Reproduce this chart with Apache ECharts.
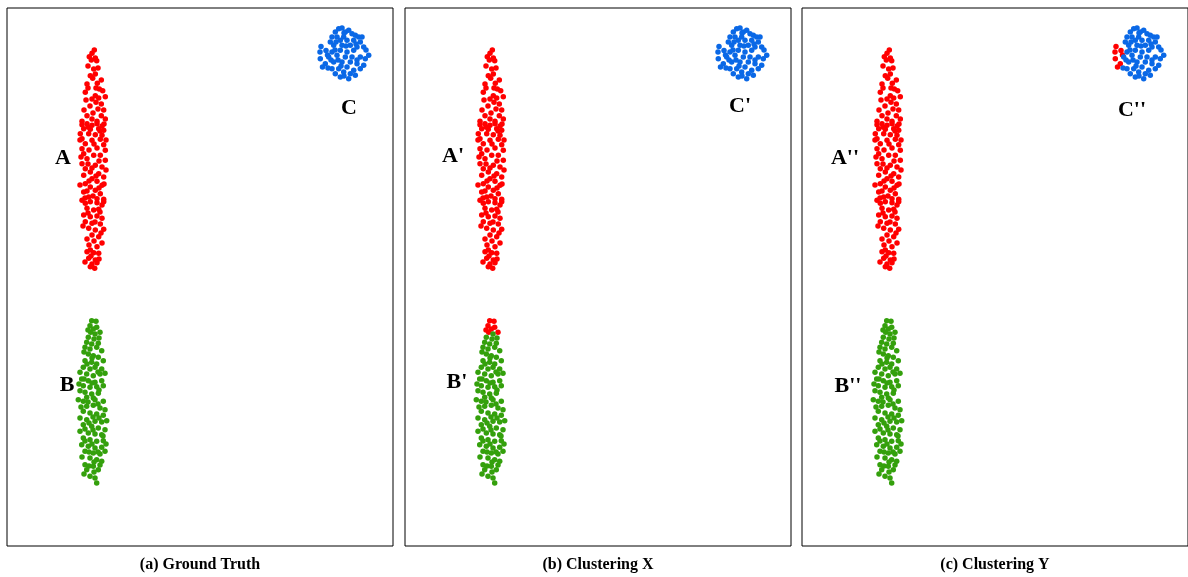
<!DOCTYPE html>
<html><head><meta charset="utf-8">
<script src="https://cdn.jsdelivr.net/npm/echarts@6/dist/echarts.min.js"></script>
<style>html,body{margin:0;padding:0;background:#fff}#c{width:1188px;height:577px}</style>
</head><body><div id="c"></div>
<script>
// Point positions, in panel coordinates (same layout in all three panels)
const clusterA = [
[94.3,50],[92,53.3],[89.3,56.7],[95.3,58],[91.3,60],[96.7,60.7],[93.7,69],[90.3,75.7],[95.3,74],[92.7,78.3],
[101.3,80],[97.3,83.3],[87,84],[88,88],[85.3,92.3],[99.3,89],[102.7,90.7],[95.3,95.7],[98.7,98],[105.3,96.7],
[96,102.3],[101.3,104],[98,109],[103.7,110],[87,115.7],[101.3,115.7],[92,119],[82,121.3],[105.3,119],[97,121.3],
[82,124.7],[87,123.7],[92,125.3],[97,123.7],[102,126],[83.7,128.7],[90.3,129.3],[98.7,128.7],[103.7,130.3],[80.3,133.7],
[88.7,133.7],[95.3,134.7],[102,135.3],[82,138.7],[92,140.3],[100.3,139.3],[85.3,143.7],[103.7,144.7],[82,148.7],[97,148],
[105.3,150.3],[83.7,153.7],[93.7,155.3],[100.3,155.3],[87,158.7],[105.3,160.3],[82,163.7],[95.3,165.3],[102,167],[85.3,168.7],
[90.3,172],[98.7,173.7],[83.7,175.3],[103.7,177],[92,178.7],[97,181.3],[85.3,183.7],[102,185.3],[90.3,187],[95.3,190.3],
[83.7,192],[100.3,193.7],[88.7,197],[97,198.7],[103.7,199.3],[82,200.3],
[85.3,203.3],[90.3,201.7],[97,202.7],[102,205],[103.7,201.7],[87,208.3],[93.7,210],[98.7,209.3],[83.7,215],[90.3,216.7],
[97,216],[102,218.3],[85.3,221.7],[92,223.3],[100.3,224],[88.7,228.3],[95.3,230],[103.7,229.3],[92,235],[98.7,236.7],
[97,246.7],[90.3,250],[87,251.7],[93.7,252.7],[98.7,253.3],[88.7,258.3],[95.3,260],[92,264],[97,262.7],[90.3,266.7],[94.7,268.3],
[86,100],[90,106],[84,110],[93,113],[88,127],[100,131],[94,144],[89,150],[99,161],[88,164],
[92,168],[96,176],[89,181],[104,184],[87,191],[99,188],[93,196],[85,198],[100,212],[88,213],
[95,222],[83,226],[101,233],[87,239],[94,241],[102,243],[89,245],[85,262],[99,259],[91,256],
[98,68],[88,66],[96,88],[92,99],[104,124],[80,140],[106,140],[81,157],[106,170],[80,185]
];
// top of cluster B (assigned to the red cluster by Clustering X)
const clusterBTop = [
[91.7,320.7],[96,321.3],[90,325.7],[93.3,329],[96.7,327.3],[90.7,332.3],[100,332.3],[88,330]
];
const clusterBRest = [
[95,334],[88.3,337.3],[94,339],[86.7,342.3],[91.7,344],[98.3,343.3],[85,347.3],[90,349],[96.7,347.3],[101.7,350.7],
[88.3,354],[93.3,355.7],[98.3,357.3],[85,360.7],[91.7,362.3],[96.7,364],[103.3,360.7],[83.3,367.3],[90,369],[95,367.3],
[101.7,369],[80,372.3],[86.7,374],[93.3,375.7],[100,374],[105,373.3],[81.7,379],[88.3,380.7],[95,382.3],[101.7,380.7],
[83.3,385.7],[90,387.3],[96.7,386.7],[103.3,385.7],[80,390.7],[85,392.3],[91.7,394],[98.3,393.3],[86.7,397.3],[93.3,398],
[78.3,399.7],[83.3,401.3],[95,399.7],[103.3,401.3],[86.7,406.3],[93.3,405.3],[100,408],[105,409.7],[83.3,411.3],[90,413],
[96.7,414],[103.3,415.3],[80,418],[86.7,419.7],[95,421.3],[101.7,422],[106.7,420.7],[83.3,424.7],[91.7,426.3],[98.3,428],
[105,429.7],[80,431.3],[88.3,433],[95,434],[101.7,434.7],[83.3,438],[90,439.7],[96.7,441.3],[103.3,440.7],[81.7,444.7],
[88.3,446.3],[95,448],[101.7,447.3],[85,451.3],[93.3,453],[100,454],[105,451.3],[90,458],[96.7,459.7],[101.7,461.3],
[85,464.7],[93.3,466.3],[86.7,469.7],[98.3,469.7],[90,476.3],[95,478],[96.7,483],
[84,352],[99,338],[92,358],[87,364],[98,372],[84,379],[92,383],[99,390],[79,384],[88,402],
[98,404],[81,407],[93,417],[89,423],[99,418],[85,429],[93,430],[103,436],[92,444],[85,441],
[98,452],[89,452],[106,444],[82,457],[94,462],[89,466],[100,465],[94,472],[84,474]
];
// left edge of cluster C (assigned to the red cluster by Clustering Y)
const clusterCLeft = [
[321,46.5],[326,50.5],[327.5,55],[320.3,58.7],[325.3,63.7],[322.5,67],[320,52]
];
const clusterCRest = [
[338.7,28.7],[342,28],[335.3,32],[345.3,32],[348.7,30.3],[352,33.7],[332,37],[337,37],[343.7,37],[355.3,35.3],
[358.7,37],[362,37],[330.3,42],[340.3,40.3],[347,40.3],[353.7,40.3],[360.3,42],[333.7,45.3],[342,45.3],[350.3,45.3],
[357,47],[363.7,47],[332,52],[340.3,50.3],[347,52],[353.7,50.3],[368.7,55.3],[328.7,57],[337,55.3],[345.3,57],
[360.3,57],[365.3,58.7],[333.7,62],[342,62],[350.3,62],[357,63.7],[363.7,65.3],[332,68.7],[338.7,68.7],[347,67],
[353.7,70.3],[360.3,68.7],[335.3,73.7],[343.7,72],[350.3,73.7],[340.3,77],[348.7,78.7],[355.3,75.3],
[344,33],[331,60],[338,60],[352,57],[356,44],[366,50],[346,46],[335,50],[357,60],[341,66],[344,76],[328,68],[336,42]
];
const panelTitles = ['(a) Ground Truth', '(b) Clustering X', '(c) Clustering Y'];
const clusterLabels = [['A','B','C'], ["A'","B'","C'"], ["A''","B''","C''"]];

const RED = '#ff0000', GREEN = '#34a00c', BLUE = '#0a68e6';
const panelLeft = [7, 405, 802];
const panelW = 386, panelTop = 8, panelH = 538;

const chart = echarts.init(document.getElementById('c'), null, {renderer: 'canvas'});
const grids = [], xAxes = [], yAxes = [], series = [], graphics = [];
const colorings = [
  [[clusterA, RED], [clusterBTop, GREEN], [clusterBRest, GREEN], [clusterCLeft, BLUE], [clusterCRest, BLUE]],
  [[clusterA, RED], [clusterBTop, RED], [clusterBRest, GREEN], [clusterCLeft, BLUE], [clusterCRest, BLUE]],
  [[clusterA, RED], [clusterBTop, GREEN], [clusterBRest, GREEN], [clusterCLeft, RED], [clusterCRest, BLUE]]
];
// label anchor positions (in panel coordinates)
const labelPos = [[[63,158],[67,385],[349,108]], [[55,156],[59,382],[342,106]], [[50,158],[53,386],[337,110]]];
for (let p = 0; p < 3; p++) {
  grids.push({left: panelLeft[p], top: panelTop, width: panelW, height: panelH, show: true,
    borderColor: '#000', borderWidth: 1, backgroundColor: '#fff'});
  xAxes.push({gridIndex: p, type: 'value', min: 7, max: 393, show: false});
  yAxes.push({gridIndex: p, type: 'value', min: 8, max: 546, inverse: true, show: false});
  colorings[p].forEach(([pts, col]) => {
    series.push({type: 'scatter', xAxisIndex: p, yAxisIndex: p, data: pts, symbolSize: 5.5,
      itemStyle: {color: col, opacity: 1}, silent: true, animation: false});
  });
  clusterLabels[p].forEach((t, i) => {
    graphics.push({type: 'text', x: panelLeft[p] - 7 + labelPos[p][i][0], y: labelPos[p][i][1],
      style: {text: t, fontFamily: 'Liberation Serif', fontWeight: 'bold', fontSize: 22, fill: '#000',
        align: 'center', verticalAlign: 'middle'}});
  });
  graphics.push({type: 'text', x: panelLeft[p] + panelW / 2, y: 565,
    style: {text: panelTitles[p], fontFamily: 'Liberation Serif', fontWeight: 'bold', fontSize: 16, fill: '#000',
      align: 'center', verticalAlign: 'middle'}});
}
chart.setOption({animation: false, grid: grids, xAxis: xAxes, yAxis: yAxes, series: series, graphic: graphics});
</script></body></html>
